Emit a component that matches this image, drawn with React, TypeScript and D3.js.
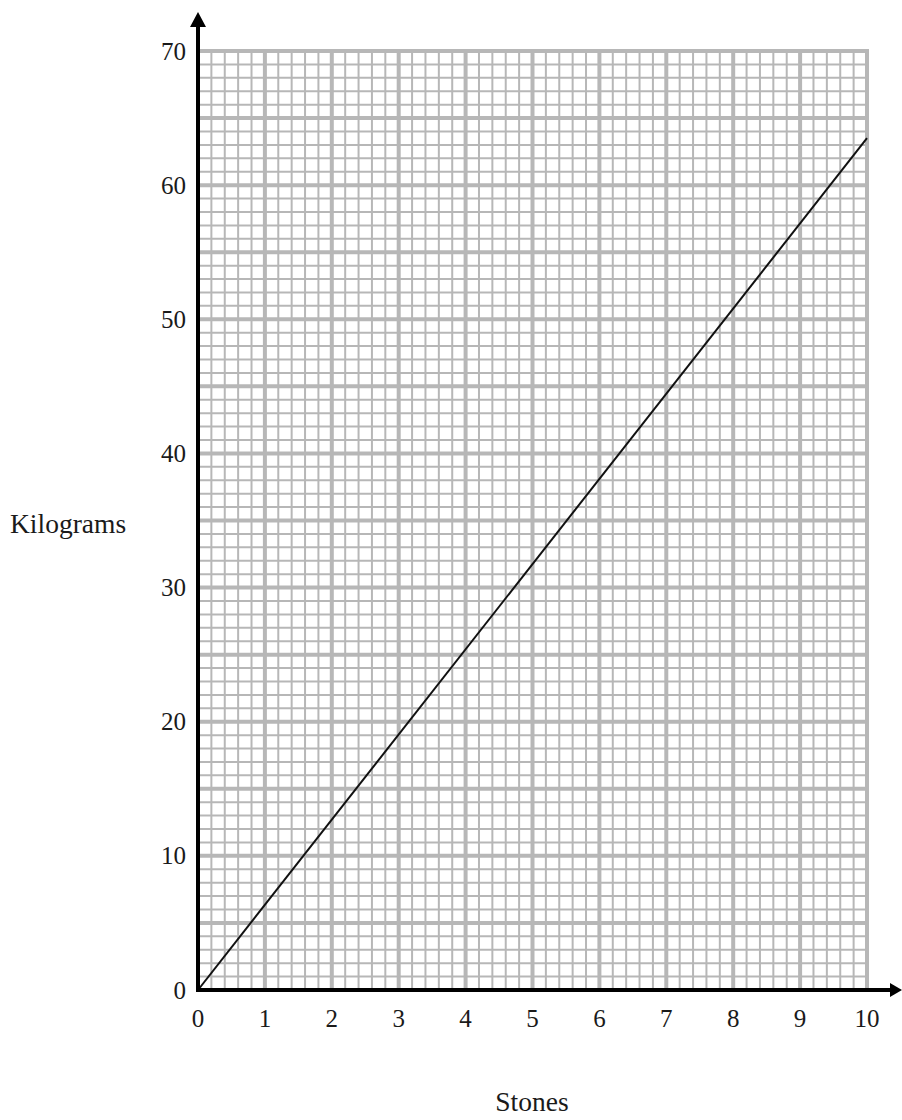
import React from "react";
import * as d3 from "d3";

const stones = [0, 10];
const kilograms = [0, 63.5];
const xTickValues = [0, 1, 2, 3, 4, 5, 6, 7, 8, 9, 10];
const yTickValues = [0, 10, 20, 30, 40, 50, 60, 70];
const xTitle = "Stones";
const yTitle = "Kilograms";

const W = 902;
const H = 1120;

export default function App() {
  const x = d3.scaleLinear().domain([0, 10]).range([198, 867]);
  const y = d3.scaleLinear().domain([0, 70]).range([990, 51]);

  const vMinor = d3.range(0, 10.0001, 0.2).map((v) => +v.toFixed(1));
  const hMinor = d3.range(0, 70.0001, 1);
  const gridColor = "#b7b7b7";

  const line = d3
    .line<number>()
    .x((_, i) => x(stones[i]))
    .y((d) => y(d));

  const font = "'Liberation Serif', 'Times New Roman', serif";
  const x0 = x(0);
  const y0 = y(0);

  return (
    <svg
      width={W}
      height={H}
      style={{ position: "absolute", left: 0, top: 0, background: "#fff" }}
    >
      <g>
        {vMinor
          .filter((v) => Math.abs(v - Math.round(v)) > 1e-6)
          .map((v) => (
            <line key={"vm" + v} x1={x(v)} x2={x(v)} y1={y(0)} y2={y(70)} stroke={gridColor} strokeWidth={2} />
          ))}
        {hMinor
          .filter((v) => v % 5 !== 0)
          .map((v) => (
            <line key={"hm" + v} x1={x(0)} x2={x(10)} y1={y(v)} y2={y(v)} stroke={gridColor} strokeWidth={2} />
          ))}
        {xTickValues.map((v) => (
          <line key={"vM" + v} x1={x(v)} x2={x(v)} y1={y(0)} y2={y(70) - 2} stroke={gridColor} strokeWidth={4} />
        ))}
        {hMinor
          .filter((v) => v % 5 === 0)
          .map((v) => (
            <line key={"hM" + v} x1={x(0)} x2={x(10) + 2} y1={y(v)} y2={y(v)} stroke={gridColor} strokeWidth={4} />
          ))}
      </g>
      <path d={line(kilograms) || ""} fill="none" stroke="#111" strokeWidth={2} />
      <line x1={x0} x2={893} y1={y0} y2={y0} stroke="#000" strokeWidth={4} />
      <path d={`M902,${y0} L890,${y0 - 7} L890,${y0 + 7} Z`} fill="#000" />
      <line x1={x0} x2={x0} y1={y0 + 2} y2={22} stroke="#000" strokeWidth={4} />
      <path d={`M${x0},12 L${x0 - 8},27 L${x0 + 8},27 Z`} fill="#000" />
      {xTickValues.map((v) => (
        <text key={"xt" + v} x={x(v)} y={1027} textAnchor="middle" fontFamily={font} fontSize={25} fill="#1a1a1a">
          {v}
        </text>
      ))}
      {yTickValues.map((v) => (
        <text key={"yt" + v} x={186} y={y(v)} dy="0.34em" textAnchor="end" fontFamily={font} fontSize={25} fill="#1a1a1a">
          {v}
        </text>
      ))}
      <text x={10} y={533} fontFamily={font} fontSize={27.5} fill="#1a1a1a">
        {yTitle}
      </text>
      <text x={532} y={1111} textAnchor="middle" fontFamily={font} fontSize={27.5} fill="#1a1a1a">
        {xTitle}
      </text>
    </svg>
  );
}
